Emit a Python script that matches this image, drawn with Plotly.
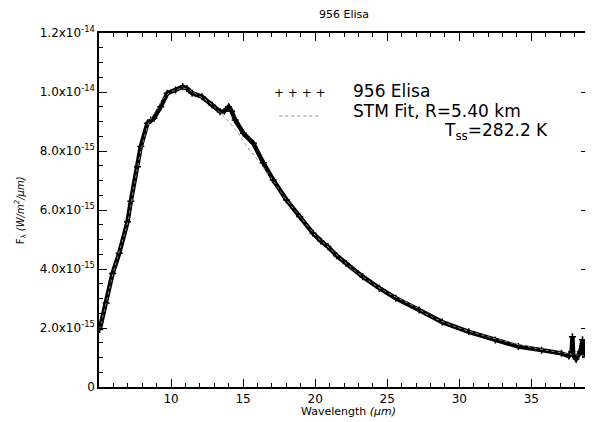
import plotly.graph_objects as go

# ---- data ----
wavelength = [5.05, 5.5, 5.94, 6.4, 6.98, 7.21, 7.67, 7.9, 8.36, 8.6, 8.81, 9.28, 9.74,
              10.31, 10.81, 11.1, 11.46, 12.15, 12.84, 13.41, 13.7, 13.99, 14.2, 14.45,
              15.02, 15.71, 16.4, 17.09, 18.01, 18.93, 19.85, 20.4, 20.88, 21.5, 22.15,
              23.3, 24.45, 25.6, 27.21, 28.82, 30.66, 32.5, 34.1, 35.71, 37.09, 37.6,
              37.8, 37.85, 37.9, 38.1, 38.4, 38.55, 38.65, 39.0]
flux = [1.95e-15, 2.85e-15, 3.85e-15, 4.53e-15, 5.6e-15, 6.3e-15, 7.47e-15, 8.15e-15,
        8.94e-15, 9.05e-15, 9.11e-15, 9.5e-15, 9.96e-15, 1.007e-14, 1.018e-14, 1.012e-14,
        9.96e-15, 9.84e-15, 9.56e-15, 9.33e-15, 9.35e-15, 9.5e-15, 9.35e-15, 9.05e-15,
        8.6e-15, 8.26e-15, 7.6e-15, 7.02e-15, 6.34e-15, 5.77e-15, 5.21e-15, 4.95e-15,
        4.76e-15, 4.45e-15, 4.19e-15, 3.74e-15, 3.35e-15, 3.01e-15, 2.61e-15, 2.2e-15,
        1.87e-15, 1.59e-15, 1.37e-15, 1.25e-15, 1.14e-15, 1.05e-15, 1.2e-15, 1.7e-15,
        1.1e-15, 0.95e-15, 1.2e-15, 1.6e-15, 1.1e-15, 1.2e-15]

fit_wavelength = [5.05, 5.5, 6, 6.5, 7, 7.5, 8, 8.5, 9, 9.5, 10, 10.5, 11, 11.5, 12, 12.5,
                  13, 13.5, 14, 14.5, 15, 15.5, 16, 17, 18, 19, 20, 21, 22, 23, 24, 25,
                  26, 27, 28, 30, 32, 34, 36, 38, 39]
fit_flux = [1.95e-15, 2.85e-15, 3.9e-15, 4.75e-15, 5.6e-15, 7.0e-15, 8.2e-15, 9.0e-15,
            9.4e-15, 9.8e-15, 1.0e-14, 1.01e-14, 1.012e-14, 1.0e-14, 9.85e-15, 9.7e-15,
            9.5e-15, 9.25e-15, 9.0e-15, 8.7e-15, 8.35e-15, 8.0e-15, 7.7e-15, 7.05e-15,
            6.35e-15, 5.75e-15, 5.15e-15, 4.7e-15, 4.25e-15, 3.85e-15, 3.5e-15, 3.2e-15,
            2.95e-15, 2.7e-15, 2.4e-15, 2.0e-15, 1.7e-15, 1.45e-15, 1.25e-15, 1.1e-15,
            1.05e-15]

x_ticks = [10, 15, 20, 25, 30, 35]
y_ticks = [0, 2e-15, 4e-15, 6e-15, 8e-15, 1.0e-14, 1.2e-14]
y_ticktext = ["0", "2.0x10<sup>-15</sup>", "4.0x10<sup>-15</sup>", "6.0x10<sup>-15</sup>",
              "8.0x10<sup>-15</sup>", "1.0x10<sup>-14</sup>", "1.2x10<sup>-14</sup>"]

FONT = "DejaVu Sans"
OFF = 8  # page body margin offset

fig = go.Figure()
fig.add_trace(go.Scatter(
    x=wavelength, y=flux, mode="lines+markers", name="956 Elisa",
    line=dict(color="black", width=4.5),
    marker=dict(symbol="cross-thin", size=5, color="black", line=dict(width=1.5, color="black")),
))
fig.add_trace(go.Scatter(
    x=fit_wavelength, y=fit_flux, mode="lines", name="STM Fit",
    line=dict(color="#8a8a8a", width=1, dash="dot", shape="spline"),
))

fig.update_layout(
    width=593 - OFF, height=422 - OFF,
    margin=dict(l=99 - OFF, r=2, t=33 - OFF, b=35),
    plot_bgcolor="white", paper_bgcolor="white",
    showlegend=False,
    font=dict(family=FONT, color="black"),
    title=dict(text="956 Elisa", x=0.5, xref="paper", xanchor="center",
               y=1 - (14 - OFF) / (422 - OFF), yanchor="middle",
               font=dict(size=11, family=FONT)),
)

common = dict(ticks="inside", ticklen=8, tickwidth=1, tickcolor="black",
              showline=True, linecolor="black", linewidth=1.5, mirror="ticks",
              showgrid=False, zeroline=False, tickfont=dict(size=12, family=FONT))
fig.update_xaxes(
    range=[5.0, 39.0], tickmode="array", tickvals=x_ticks,
    minor=dict(ticks="inside", ticklen=4, tick0=0, dtick=1, tickcolor="black", tickwidth=1,
               showgrid=False),
    **common,
)
fig.update_yaxes(
    range=[0, 1.2e-14], tickmode="array", tickvals=y_ticks, ticktext=y_ticktext,
    minor=dict(ticks="inside", ticklen=4, tick0=0, dtick=5e-16, tickcolor="black", tickwidth=1,
               showgrid=False),
    **common,
)

def px(x):
    return (x - 99) / 492

def py(y):
    return (387 - y) / 354

ann = [
    dict(text="+ + + +", x=px(301), y=py(93), xanchor="center", yanchor="middle",
         font=dict(size=12)),
    dict(text="956 Elisa", x=px(352), y=py(91), xanchor="left", yanchor="middle",
         font=dict(size=17)),
    dict(text="STM Fit, R=5.40 km", x=px(352), y=py(111), xanchor="left", yanchor="middle",
         font=dict(size=17)),
    dict(text="T<sub>ss</sub>=282.2 K", x=px(552), y=py(131), xanchor="right",
         yanchor="middle", font=dict(size=17)),
    dict(text="F<sub>λ</sub> <i>(W/m<sup>2</sup>/μm)</i>", x=px(20), y=py(210),
         textangle=-90, xanchor="center", yanchor="middle", font=dict(size=10)),
    dict(text="Wavelength <i>(μm)</i>", x=px(350), y=py(411), xanchor="center",
         yanchor="middle", font=dict(size=11)),
]
for a in ann:
    a.update(xref="paper", yref="paper", showarrow=False)
    a["font"].setdefault("family", FONT)
    a["font"].setdefault("color", "black")
fig.update_layout(annotations=ann)

fig.add_shape(type="line", xref="paper", yref="paper",
              x0=px(280), x1=px(322), y0=py(116), y1=py(116),
              line=dict(color="#8a8a8a", width=1, dash="dot"))

fig.write_html("out.html")
